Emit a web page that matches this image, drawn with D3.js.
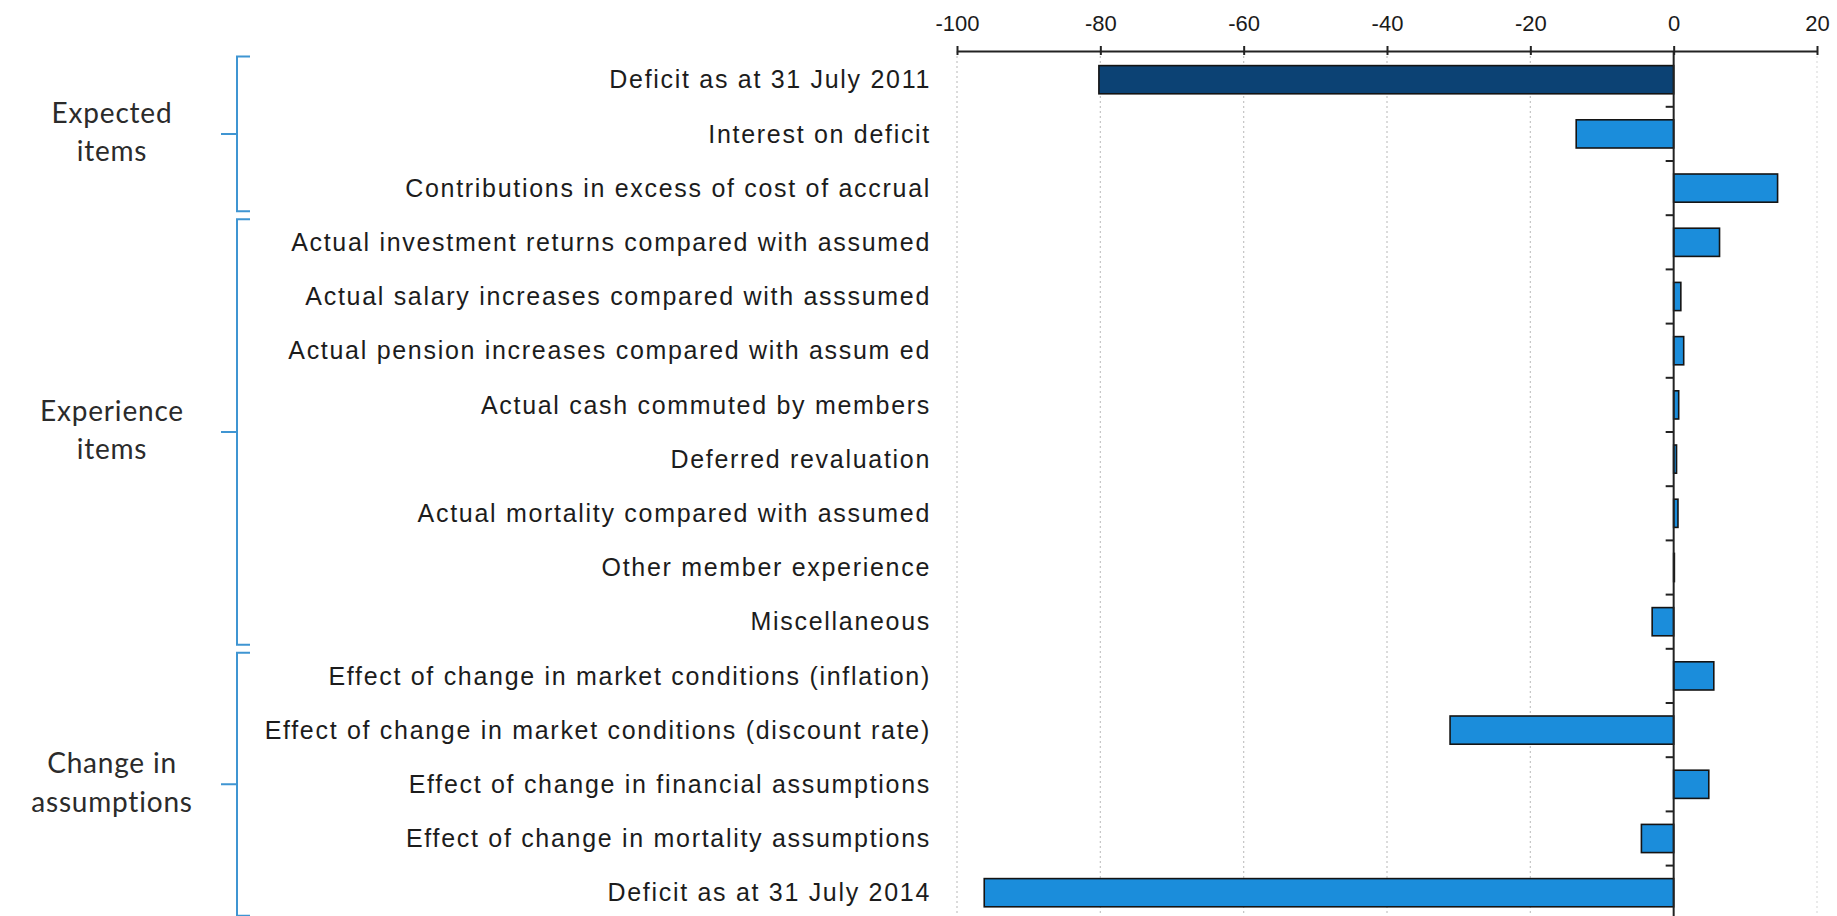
<!DOCTYPE html>
<html lang="en">

<head>
  <meta charset="UTF-8">
  <meta name="viewport" content="width=device-width, initial-scale=1.0">
  <script src="https://d3js.org/d3.v7.min.js"></script>
  <title>Deficit analysis</title>
  <style>
    body { margin: 0; background: #fff; }
  </style>
</head>

<body>
  <div id="my_dataviz"></div>
  <script>

    // data
    const categories = [
      "Deficit as at 31 July 2011",
      "Interest on deficit",
      "Contributions in excess of cost of accrual",
      "Actual investment returns compared with assumed",
      "Actual salary increases compared with asssumed",
      "Actual pension increases compared with assum ed",
      "Actual cash commuted by members",
      "Deferred revaluation",
      "Actual mortality compared with assumed",
      "Other member experience",
      "Miscellaneous",
      "Effect of change in market conditions (inflation)",
      "Effect of change in market conditions (discount rate)",
      "Effect of change in financial assumptions",
      "Effect of change in mortality assumptions",
      "Deficit as at 31 July 2014"
    ];
    const values = [-80.2, -13.6, 14.5, 6.4, 1.0, 1.4, 0.7, 0.4, 0.6, 0.1, -3.0, 5.6, -31.2, 4.9, -4.5, -96.2];
    const tickValues = [-100, -80, -60, -40, -20, 0, 20];

    // groups on the left: label lines, first and last row
    const groupLabels = [["Expected", "items"], ["Experience", "items"], ["Change in", "assumptions"]];
    const groupStart = [0, 3, 11];
    const groupEnd = [2, 10, 15];

    const width = 1837, height = 916;
    const xLeft = 957, xRight = 1817;
    const yTop = 52.6, step = 54.2;

    const svg = d3.select("#my_dataviz")
      .append("svg")
      .attr("width", width)
      .attr("height", height);

    const x = d3.scaleLinear()
      .domain([-100, 20])
      .range([xLeft, xRight]);

    const y = d3.scaleBand()
      .domain(categories)
      .range([yTop, yTop + step * categories.length])
      .paddingInner(0.48)
      .paddingOuter(0.24);

    const axisY = 51;

    // dotted gridlines
    svg.append("g")
      .selectAll("line")
      .data(tickValues.filter(d => d !== 0))
      .join("line")
      .attr("x1", d => x(d))
      .attr("x2", d => x(d))
      .attr("y1", axisY)
      .attr("y2", height)
      .attr("stroke", d => d === 20 ? "#dcdcdc" : "#c4c4c4")
      .attr("stroke-width", 1.2)
      .attr("stroke-dasharray", "2,3");

    // top axis
    const xAxis = svg.append("g")
      .attr("transform", `translate(0, ${axisY})`)
      .call(d3.axisTop(x).tickValues(tickValues).tickSize(0).tickPadding(20).tickFormat(d => String(d)));
    xAxis.select(".domain").attr("stroke", "#222").attr("stroke-width", 2);
    xAxis.selectAll(".tick line")
      .attr("y1", -5)
      .attr("y2", 4)
      .attr("stroke", "#222")
      .attr("stroke-width", 2);
    xAxis.selectAll("text")
      .style("font-family", "'Liberation Sans', Arial, sans-serif")
      .style("font-size", "22px")
      .attr("fill", "#1a1a1a");

    // bars
    svg.append("g")
      .selectAll("rect")
      .data(categories)
      .join("rect")
      .attr("x", (d, i) => x(Math.min(0, values[i])))
      .attr("y", d => y(d))
      .attr("width", (d, i) => Math.abs(x(values[i]) - x(0)))
      .attr("height", y.bandwidth())
      .attr("fill", (d, i) => i === 0 ? "#0c4274" : "#1b8ddb")
      .attr("stroke", "#141414")
      .attr("stroke-width", 1.6);

    // zero line with ticks between rows
    svg.append("line")
      .attr("x1", x(0)).attr("x2", x(0))
      .attr("y1", axisY).attr("y2", height)
      .attr("stroke", "#222")
      .attr("stroke-width", 2);
    const gap = y.step() * y.paddingInner();
    svg.append("g")
      .selectAll("line")
      .data(categories.slice(1))
      .join("line")
      .attr("x1", x(0) - 8)
      .attr("x2", x(0))
      .attr("y1", d => y(d) - gap / 2)
      .attr("y2", d => y(d) - gap / 2)
      .attr("stroke", "#222")
      .attr("stroke-width", 2);

    // category labels
    svg.append("g")
      .selectAll("text")
      .data(categories)
      .join("text")
      .attr("x", 931)
      .attr("y", d => y(d) + y.bandwidth() / 2)
      .attr("dy", "0.35em")
      .attr("text-anchor", "end")
      .style("font-family", "'Liberation Sans', Arial, sans-serif")
      .style("font-size", "25px")
      .style("letter-spacing", "1.7px")
      .attr("fill", "#1c1c1c")
      .text(d => d);

    // brackets on the left
    const rowTop = i => y(categories[i]) - gap / 2;
    const rowBottom = i => y(categories[i]) + y.bandwidth() + gap / 2;
    const bx = 237;

    groupLabels.forEach((lines, g) => {
      const top = rowTop(groupStart[g]) + 4;
      const bottom = Math.min(rowBottom(groupEnd[g]) - 4, height);
      const mid = (rowTop(groupStart[g]) + rowBottom(groupEnd[g])) / 2;

      svg.append("path")
        .attr("d", `M${bx + 13},${top} H${bx} V${bottom} H${bx + 13} M${bx},${mid} H${bx - 16}`)
        .attr("fill", "none")
        .attr("stroke", "#3f95d2")
        .attr("stroke-width", 2);

      svg.append("text")
        .attr("x", 112)
        .attr("y", mid)
        .attr("text-anchor", "middle")
        .style("font-family", "Lato, 'Open Sans', sans-serif")
        .style("font-size", "28px")
        .style("letter-spacing", "0.8px")
        .attr("fill", "#2b2b2b")
        .selectAll("tspan")
        .data(lines)
        .join("tspan")
        .attr("x", 112)
        .attr("dy", (d, i) => i === 0 ? "-0.4em" : "1.38em")
        .text(d => d);
    });

  </script>
</body>

</html>
